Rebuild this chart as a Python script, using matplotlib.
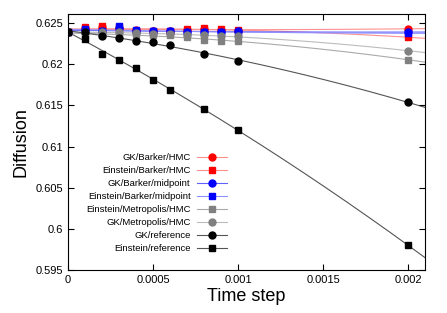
import matplotlib
matplotlib.use("Agg")
import matplotlib.pyplot as plt
import numpy as np

plt.rcParams["font.family"] = ["Liberation Sans", "DejaVu Sans"]

# time steps
x_full = np.array([0, 1, 2, 3, 4, 5, 6, 7, 8, 9, 10, 20]) * 1e-4
x_ref = np.array([0, 1, 2, 3, 4, 5, 6, 8, 10, 20]) * 1e-4

gk_barker_hmc = [0.62393, 0.6244, 0.6245, 0.6244, 0.6242, 0.6241, 0.6241, 0.6242, 0.6243, 0.6242, 0.6241, 0.62433]
ein_barker_hmc = [0.62393, 0.62454, 0.6247, 0.6245, 0.6241, 0.6240, 0.6240, 0.6243, 0.62442, 0.6243, 0.6242, 0.62327]
gk_barker_mid = [0.62393, 0.6242, 0.6240, 0.6244, 0.6241, 0.6240, 0.6240, 0.6239, 0.6239, 0.6239, 0.6240, 0.62393]
ein_barker_mid = [0.62393, 0.6243, 0.6241, 0.6246, 0.6242, 0.6240, 0.6240, 0.62393, 0.62387, 0.62387, 0.6239, 0.62380]
ein_metro_hmc = [0.62393, 0.6236, 0.6236, 0.6236, 0.6235, 0.6235, 0.6235, 0.62327, 0.6230, 0.62287, 0.62278, 0.62056]
gk_metro_hmc = [0.62393, 0.6238, 0.6239, 0.6239, 0.6238, 0.6237, 0.6237, 0.6236, 0.6235, 0.6234, 0.6234, 0.62165]
gk_ref = [0.62393, 0.6239, 0.62348, 0.6232, 0.62287, 0.62266, 0.6223, 0.62125, 0.62044, 0.6154]
ein_ref = [0.62393, 0.62311, 0.62129, 0.62056, 0.6195, 0.61813, 0.6169, 0.61463, 0.6120, 0.5980]

series = [
    ("GK/Barker/HMC", x_full, gk_barker_hmc, "red", "#ff9090", "o"),
    ("Einstein/Barker/HMC", x_full, ein_barker_hmc, "red", "#ff9090", "s"),
    ("GK/Barker/midpoint", x_full, gk_barker_mid, "blue", "#6060ff", "o"),
    ("Einstein/Barker/midpoint", x_full, ein_barker_mid, "blue", "#9090ff", "s"),
    ("Einstein/Metropolis/HMC", x_full, ein_metro_hmc, "gray", "#aaaaaa", "s"),
    ("GK/Metropolis/HMC", x_full, gk_metro_hmc, "gray", "#bbbbbb", "o"),
    ("GK/reference", x_ref, gk_ref, "black", "#555555", "o"),
    ("Einstein/reference", x_ref, ein_ref, "black", "#555555", "s"),
]

fig = plt.figure(figsize=(4.47, 3.13), dpi=100)
ax = fig.add_axes([0.152, 0.137, 0.799, 0.818])

xs = np.linspace(0, 0.0021, 200)
handles = []
for label, xv, yv, mc, lc, mk in series:
    coef = np.polyfit(xv, yv, 2)
    ax.plot(xs, np.polyval(coef, xs), color=lc, lw=0.8, zorder=1)
    ax.plot(xv, yv, ls="none", marker=mk, color=mc, ms=5, zorder=2)
    h, = ax.plot([], [], color=lc, lw=0.8, marker=mk, mfc=mc, mec=mc, ms=5, label=label)
    handles.append(h)

ax.set_xlim(0, 0.0021)
ax.set_ylim(0.595, 0.6261)
ax.set_xticks([0, 0.0005, 0.001, 0.0015, 0.002])
ax.set_xticklabels(["0", "0.0005", "0.001", "0.0015", "0.002"])
ax.set_yticks([0.595, 0.6, 0.605, 0.61, 0.615, 0.62, 0.625])
ax.set_yticklabels(["0.595", "0.6", "0.605", "0.61", "0.615", "0.62", "0.625"])
ax.tick_params(direction="in", top=True, right=True, labelsize=8, length=4)
ax.set_xlabel("Time step", fontsize=13, labelpad=2)
ax.set_ylabel("Diffusion", fontsize=13, labelpad=4)

ax.legend(handles=handles, loc="lower left", bbox_to_anchor=(0.035, 0.045),
          frameon=False, markerfirst=False, fontsize=6.8, handlelength=3.2,
          labelspacing=0.42, borderaxespad=0.2, handletextpad=0.7)

fig.savefig("out.png", dpi=100)
